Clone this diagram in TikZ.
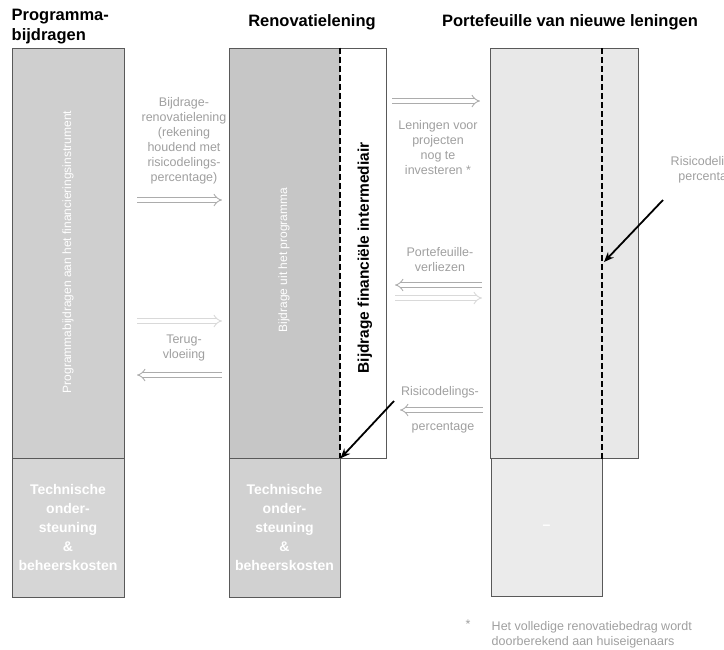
\documentclass[tikz,border=0pt]{standalone}
\usepackage{fontspec}
\setmainfont{Liberation Sans}
\usetikzlibrary{arrows.meta}

\begin{document}
\begin{tikzpicture}[x=1pt, y=-1pt, thick,
    box/.style = {draw=gray!70!black, line width=0.6pt, inner sep=0pt, rectangle},
    title/.style = {font=\fontsize{16.5}{20}\selectfont\bfseries},
    lbl/.style = {font=\fontsize{12.5}{15}\selectfont, text=gray!75, align=center},
    inlbl/.style = {font=\fontsize{14}{19}\selectfont\bfseries, text=white, align=center},
    coltxt/.style = {font=\fontsize{12}{14}\selectfont, text=white},
    hollow/.style = {draw=gray!65, double=white, double distance=3.5pt, line width=0.9pt, -{Implies}},
    faint/.style = {hollow, draw=gray!30},
    pointer/.style = {line width=1.8pt, -{Stealth[length=10pt, width=8pt]}},
    split/.style = {dash pattern=on 6pt off 3pt, line width=2pt}
    ]
    \useasboundingbox (0,0) rectangle (724,649);

    % titles
    \node[title, anchor=north west, align=left] (ttlprog) at (8,5) {Programma-\\bijdragen};
    \node[title] (ttlreno) at (312,22) {Renovatielening};
    \node[title] (ttlport) at (570,22) {Portefeuille van nieuwe leningen};

    % columns
    \node[box, fill=gray!38, minimum width=112pt, minimum height=410pt] (prog) at (68,253) {};
    \node[box, fill=gray!32, minimum width=112pt, minimum height=139pt, inlbl] (progta) at (68,527.5) {Technische\\onder-\\steuning\\\&\\beheerskosten};

    \node[fill=gray!45, minimum width=111pt, minimum height=410pt, inner sep=0pt] (renogrey) at (284.5,253) {};
    \node[box, minimum width=157pt, minimum height=410pt] (reno) at (307.5,253) {};
    \node[box, fill=gray!36, minimum width=111pt, minimum height=139pt, inlbl] (renota) at (284.5,527.5) {Technische\\onder-\\steuning\\\&\\beheerskosten};

    \node[box, fill=gray!18, minimum width=148pt, minimum height=410pt] (port) at (564,253) {};
    \node[box, fill=gray!16, minimum width=111pt, minimum height=138pt, inlbl] (portta) at (546.5,527) {--};

    % texts in the columns
    \node[coltxt, rotate=90] (progtxt) at (68,252) {Programmabijdragen aan het financieringsinstrument};
    \node[coltxt, rotate=90] (renotxt) at (284,260) {Bijdrage uit het programma};
    \node[rotate=90, font=\fontsize{15.5}{18}\selectfont\bfseries] (fintxt) at (365,258) {Bijdrage financiële intermediair};

    % dashed split lines
    \coordinate (porttop) at (602,48);
    \coordinate (portbot) at (602,460);
    \draw[split] (renogrey.north east) to (renogrey.south east);
    \draw[split] (porttop) to (portbot);

    % flows left
    \node[lbl] (bijdr) at (184,141) {Bijdrage-\\renovatielening\\(rekening\\houdend met\\risicodelings-\\percentage)};
    \coordinate (b1) at (137,200); \coordinate (e1) at (222,200);
    \draw[hollow] (b1) to (e1);
    \coordinate (b2) at (137,321); \coordinate (e2) at (222,321);
    \draw[faint] (b2) to (e2);
    \node[lbl] (terug) at (184,348) {Terug-\\vloeiing};
    \coordinate (b3) at (222,375); \coordinate (e3) at (137,375);
    \draw[hollow] (b3) to (e3);

    % flows right
    \coordinate (b4) at (392,101); \coordinate (e4) at (480,101);
    \draw[hollow] (b4) to (e4);
    \node[lbl] (lening) at (438,148) {Leningen voor\\projecten\\nog te\\investeren *};
    \node[lbl] (verlies) at (440,260) {Portefeuille-\\verliezen};
    \coordinate (b5) at (482,285); \coordinate (e5) at (395,285);
    \draw[hollow] (b5) to (e5);
    \coordinate (b6) at (395,298); \coordinate (e6) at (482,298);
    \draw[faint] (b6) to (e6);
    \node[lbl] (rdl) at (440,392) {Risicodelings-};
    \coordinate (b7) at (483,410); \coordinate (e7) at (400,410);
    \draw[hollow] (b7) to (e7);
    \node[lbl] (pct) at (443,428) {percentage};

    % pointers to the split lines
    \coordinate (rdlA) at (394,401);
    \draw[pointer] (rdlA) to (renogrey.south east);
    \node[lbl, anchor=west] (rdlport) at (667,170) {Risicodelings-\\percentage};
    \coordinate (rdlB) at (663,200);
    \coordinate (portmid) at (604,262);
    \draw[pointer] (rdlB) to (portmid);

    % note
    \node[lbl, anchor=north west] (star) at (462,616) {*};
    \node[lbl, anchor=north west, align=left] (note) at (488,618) {Het volledige renovatiebedrag wordt\\doorberekend aan huiseigenaars};

\end{tikzpicture}
\end{document}
